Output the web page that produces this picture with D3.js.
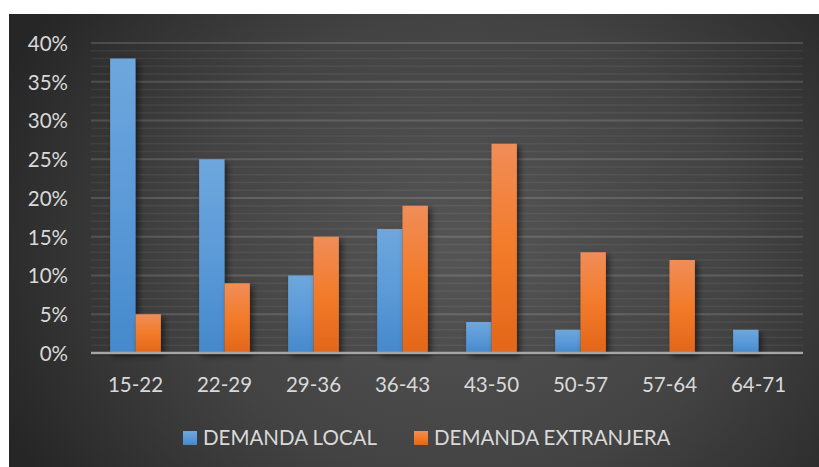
<!DOCTYPE html>
<html><head><meta charset="utf-8">
<script src="https://cdn.jsdelivr.net/npm/d3@7"></script>
<style>html,body{margin:0;padding:0;background:#fff;}svg{display:block;}</style>
</head><body>
<svg id="c" width="819" height="467"></svg>
<script>
const categories = ["15-22","22-29","29-36","36-43","43-50","50-57","57-64","64-71"];
const seriesNames = ["DEMANDA LOCAL","DEMANDA EXTRANJERA"];
const local = [38,25,10,16,4,3,0,3];
const extranjera = [5,9,15,19,27,13,12,0];
const yTicks = [0,5,10,15,20,25,30,35,40];
const minorTicks = d3.range(0,41,1);

const svg = d3.select("#c");
const W = 819, H = 467;
const defs = svg.append("defs");

const bg = defs.append("radialGradient").attr("id","bg").attr("cx","0.56").attr("cy","0.52").attr("r","0.62")
  .attr("gradientTransform","translate(0.56,0.52) scale(1,1.5) translate(-0.56,-0.52)");
bg.append("stop").attr("offset","0").attr("stop-color","#555555");
bg.append("stop").attr("offset","0.55").attr("stop-color","#434343");
bg.append("stop").attr("offset","1").attr("stop-color","#262626");

const gB = defs.append("linearGradient").attr("id","gB").attr("x1",0).attr("y1",0).attr("x2",0).attr("y2",1);
gB.append("stop").attr("offset","0").attr("stop-color","#6ea7dd");
gB.append("stop").attr("offset","0.5").attr("stop-color","#5b9ad8");
gB.append("stop").attr("offset","1").attr("stop-color","#4589cc");
const gO = defs.append("linearGradient").attr("id","gO").attr("x1",0).attr("y1",0).attr("x2",0).attr("y2",1);
gO.append("stop").attr("offset","0").attr("stop-color","#f08d58");
gO.append("stop").attr("offset","0.5").attr("stop-color","#f37b2a");
gO.append("stop").attr("offset","1").attr("stop-color","#e2661a");

const sh = defs.append("filter").attr("id","sh").attr("x","-30%").attr("y","-10%").attr("width","170%").attr("height","130%");
sh.append("feGaussianBlur").attr("in","SourceAlpha").attr("stdDeviation",3);
sh.append("feOffset").attr("dx",3).attr("dy",3).attr("result","ob");
sh.append("feComponentTransfer").append("feFuncA").attr("type","linear").attr("slope",0.55);
const mg = sh.append("feMerge"); mg.append("feMergeNode"); mg.append("feMergeNode").attr("in","SourceGraphic");

svg.append("rect").attr("x",9).attr("y",14).attr("width",W-9).attr("height",H-14).attr("fill","url(#bg)");

const x0 = d3.scaleBand().domain(categories).range([91,803]).paddingInner(0.43).paddingOuter(0.215);
const x1 = d3.scaleBand().domain(seriesNames).range([0,x0.bandwidth()]);
const y = d3.scaleLinear().domain([0,40]).range([353,43]);

// minor grid
svg.append("g").selectAll("line").data(minorTicks.filter(d=>d%5!==0)).join("line")
  .attr("x1",91).attr("x2",803).attr("y1",d=>y(d)).attr("y2",d=>y(d))
  .attr("stroke","rgba(255,255,255,0.06)").attr("stroke-width",1.5);
// major grid
svg.append("g").selectAll("line").data(yTicks.filter(d=>d>0)).join("line")
  .attr("x1",91).attr("x2",803).attr("y1",d=>y(d)).attr("y2",d=>y(d))
  .attr("stroke","rgba(255,255,255,0.14)").attr("stroke-width",2);

const font = "Lato, 'Open Sans', sans-serif";
const fs = "20.5px";
const yAxis = d3.axisLeft(y).tickValues(yTicks).tickFormat(d=>d+"%").tickSize(0).tickPadding(0);
const ya = svg.append("g").attr("transform","translate(68,0)").call(yAxis);
ya.select(".domain").remove();
ya.selectAll("text").attr("fill","#d9d9d9").style("font-family",font).style("font-size",fs).attr("dy","0.36em");

const data = categories.map((c,i)=>({c, vals:[local[i],extranjera[i]]}));
const groups = svg.append("g").selectAll("g").data(data).join("g").attr("transform",d=>`translate(${x0(d.c)},0)`);
groups.selectAll("rect").data(d=>d.vals.map((v,j)=>({v,s:seriesNames[j],j})).filter(e=>e.v>0)).join("rect")
  .attr("x",e=>x1(e.s)).attr("width",x1.bandwidth())
  .attr("y",e=>y(e.v)).attr("height",e=>y(0)-y(e.v))
  .attr("fill",e=>e.j===0?"url(#gB)":"url(#gO)").attr("filter","url(#sh)");

// baseline
svg.append("line").attr("x1",91).attr("x2",803).attr("y1",y(0)+1).attr("y2",y(0)+1).attr("stroke","rgba(0,0,0,0.35)").attr("stroke-width",3);
svg.append("line").attr("x1",91).attr("x2",803).attr("y1",y(0)).attr("y2",y(0)).attr("stroke","#a6a6a6").attr("stroke-width",2.5);

const xAxis = d3.axisBottom(x0).tickSize(0).tickPadding(0);
const xa = svg.append("g").attr("transform","translate(0,385)").call(xAxis);
xa.select(".domain").remove();
xa.selectAll("text").attr("fill","#d9d9d9").style("font-family",font).style("font-size",fs).attr("dy","0.36em").attr("y",0);

// legend
const legX = [183,414];
const lg = svg.append("g").selectAll("g").data(seriesNames).join("g").attr("transform",(d,i)=>`translate(${legX[i]},431)`);
lg.append("rect").attr("width",14).attr("height",14).attr("fill",(d,i)=>i===0?"url(#gB)":"url(#gO)");
lg.append("text").attr("x",20).attr("y",7).attr("dy","0.36em").text(d=>d)
  .attr("fill","#d9d9d9").style("font-family",font).style("font-size",fs);
</script>
</body></html>
